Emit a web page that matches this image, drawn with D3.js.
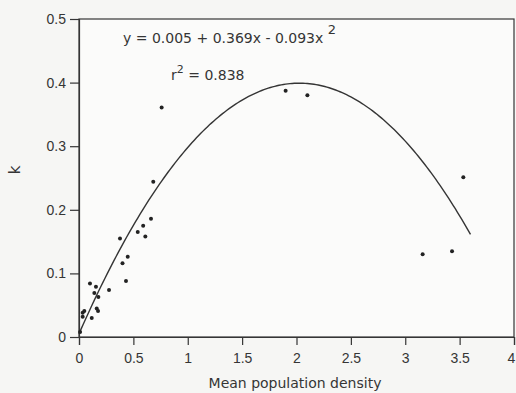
<!DOCTYPE html>
<html>
<head>
<meta charset="utf-8">
<script src="https://cdn.jsdelivr.net/npm/d3@7"></script>
<style>
  body { margin: 0; background: #f6f6f4; }
  svg { font-family: "DejaVu Sans", "Liberation Sans", Arial, sans-serif; }
</style>
</head>
<body>
<svg id="chart" width="516" height="393"></svg>
<script>
// points
var density = [0.01, 0.034, 0.034, 0.049, 0.101, 0.117, 0.141, 0.156, 0.163, 0.175, 0.178,
  0.276, 0.377, 0.40, 0.432, 0.448, 0.54, 0.59, 0.61, 0.662, 0.683, 0.76,
  1.90, 2.10, 3.16, 3.43, 3.534];
var kValues = [0.008, 0.032, 0.038, 0.041, 0.084, 0.030, 0.069, 0.079, 0.045, 0.041, 0.063,
  0.074, 0.155, 0.116, 0.088, 0.126, 0.165, 0.175, 0.158, 0.186, 0.244, 0.361,
  0.387, 0.380, 0.130, 0.135, 0.251];

var xTicks = [0, 0.5, 1, 1.5, 2, 2.5, 3, 3.5, 4];
var yTicks = [0, 0.1, 0.2, 0.3, 0.4, 0.5];

// quadratic fit as it is drawn in the figure (a, b, c)
var fitCoef = [0.005, 0.389, -0.096];
var fitRange = [0, 3.6];

var svg = d3.select("#chart");
var margin = { top: 19, right: 2, bottom: 56, left: 79 },
  width = 516 - margin.left - margin.right,
  height = 393 - margin.top - margin.bottom;

var x = d3.scaleLinear().domain([0, 4]).range([0, width]);
var y = d3.scaleLinear().domain([0, 0.5]).range([height, 0]);

var ink = "#353535";

var g = svg.append("g")
  .attr("transform", "translate(" + margin.left + "," + margin.top + ")");

g.append("rect")
  .attr("width", width)
  .attr("height", height)
  .attr("fill", "#fbfbfa")
  .attr("stroke", ink)
  .attr("stroke-width", 1.2);

var xAxis = d3.axisBottom(x)
  .tickValues(xTicks)
  .tickSize(8)
  .tickPadding(8)
  .tickFormat(function (d) { return d3.format("")(d); });

var yAxis = d3.axisLeft(y)
  .tickValues(yTicks)
  .tickSize(9)
  .tickPadding(4)
  .tickFormat(function (d) { return d === 0 ? "0" : d3.format(".1f")(d); });

var gx = g.append("g")
  .attr("transform", "translate(0," + height + ")")
  .call(xAxis);
g.append("g").call(yAxis);

g.selectAll(".domain, .tick line")
  .attr("stroke", ink)
  .attr("stroke-width", 1.2);
g.selectAll(".tick text")
  .attr("fill", ink)
  .style("font-size", "14px");
// last label sits on the right edge, nudge it in a little
gx.selectAll(".tick text").filter(function (d) { return d === 4; }).attr("dx", -3);

// fitted curve
var fitX = d3.range(fitRange[0], fitRange[1] + 0.001, 0.02);
var line = d3.line()
  .x(function (d) { return x(d); })
  .y(function (d) { return y(fitCoef[0] + fitCoef[1] * d + fitCoef[2] * d * d); });

g.append("path")
  .datum(fitX)
  .attr("d", line)
  .attr("fill", "none")
  .attr("stroke", ink)
  .attr("stroke-width", 1.4);

g.selectAll(".pt")
  .data(density)
  .enter().append("circle")
  .attr("class", "pt")
  .attr("cx", function (d) { return x(d); })
  .attr("cy", function (d, i) { return y(kValues[i]); })
  .attr("r", 2)
  .attr("fill", "#222");

// equation text
var eq = svg.append("text")
  .attr("x", 123)
  .attr("y", 43)
  .attr("fill", ink)
  .style("font-size", "14px");
eq.append("tspan").text("y = 0.005 + 0.369x  - 0.093x ");
eq.append("tspan").attr("dy", -9).style("font-size", "13px").text("2");

var r2 = svg.append("text")
  .attr("x", 171)
  .attr("y", 80)
  .attr("fill", ink)
  .style("font-size", "14px");
r2.append("tspan").text("r");
r2.append("tspan").attr("dy", -7).style("font-size", "11px").text("2");
r2.append("tspan").attr("dy", 7).text(" = 0.838");

svg.append("text")
  .attr("x", 295)
  .attr("y", 388)
  .attr("text-anchor", "middle")
  .attr("fill", ink)
  .style("font-size", "14px")
  .text("Mean population density");

svg.append("text")
  .attr("transform", "translate(20,170) rotate(-90)")
  .attr("text-anchor", "middle")
  .attr("fill", ink)
  .style("font-size", "15px")
  .text("k");
</script>
</body>
</html>
